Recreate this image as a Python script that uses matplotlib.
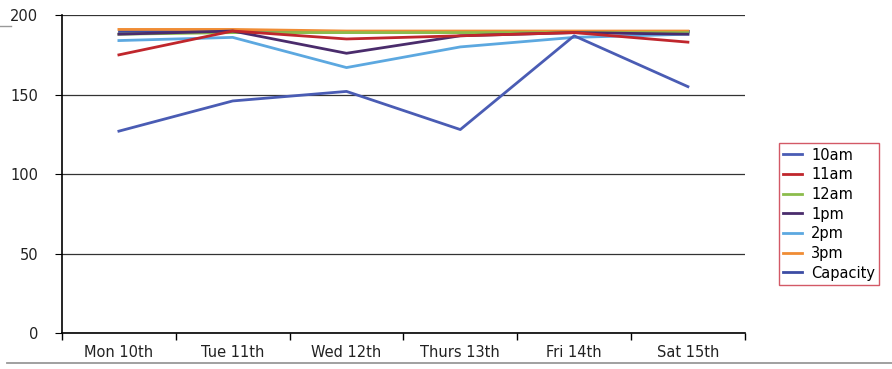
import matplotlib.pyplot as plt
import numpy as np

days = ["Mon 10th", "Tue 11th", "Wed 12th", "Thurs 13th", "Fri 14th", "Sat 15th"]
am10 = [127, 146, 152, 128, 187, 155]
am11 = [175, 190, 185, 187, 189, 183]
am12 = [188, 189, 189, 189, 189, 189]
pm1 = [188, 190, 176, 187, 189, 188]
pm2 = [184, 186, 167, 180, 186, 188]
pm3 = [191, 191, 190, 190, 190, 190]
capacity = [190, 190, 190, 190, 190, 190]

names = ["10am", "11am", "12am", "1pm", "2pm", "3pm", "Capacity"]
colors = ["#4a5cb4", "#c0262c", "#8cbc4c", "#4a2c6c", "#5ca8e0", "#f08c34", "#3c4ca4"]

fig = plt.figure(figsize=(8.92, 3.69), dpi=100)
ax = fig.add_axes([0.0695, 0.0976, 0.7655, 0.8614])

x = np.arange(len(days))
# draw in order so that the flat top lines sit under the others
order = [6, 5, 2, 4, 3, 1, 0]
series = [am10, am11, am12, pm1, pm2, pm3, capacity]
lines = {}
for i in order:
    ln, = ax.plot(x, series[i], color=colors[i], lw=2.0, label=names[i])
    lines[i] = ln

ax.set_xlim(-0.5, 5.5)
ax.set_ylim(0, 200)
ax.set_yticks([0, 50, 100, 150, 200])
ax.set_xticks(x)
ax.set_xticklabels(days)
ax.set_xticks(np.arange(-0.5, 6, 1), minor=True)
ax.tick_params(axis="x", which="major", length=0, labelsize=10.5, pad=9, labelcolor="#222222")
ax.tick_params(axis="x", which="minor", length=5, direction="out", width=1)
ax.tick_params(axis="y", length=5, direction="out", labelsize=10.5, pad=12, labelcolor="#222222")
ax.grid(axis="y", color="#333333", lw=0.9)
ax.set_axisbelow(True)
for s in ["top", "right"]:
    ax.spines[s].set_visible(False)
ax.spines["left"].set_linewidth(1.2)
ax.spines["bottom"].set_linewidth(1.2)

leg = ax.legend([lines[i] for i in range(7)], names, loc="upper left",
                bbox_to_anchor=(1.05, 0.597), frameon=True, fancybox=False,
                fontsize=10.5, handlelength=1.3, handletextpad=0.6,
                labelspacing=0.32, borderpad=0.3, borderaxespad=0)
leg.get_frame().set_edgecolor("#c83040")
leg.get_frame().set_linewidth(1.0)

# thin gray rule under the chart and the stub beside the top label
fig.add_artist(plt.Line2D([0.008, 1.0], [0.016, 0.016], color="#999999", lw=1.3))
fig.add_artist(plt.Line2D([0.0, 0.012], [0.93, 0.93], color="#999999", lw=1.0))

fig.savefig("out.png", dpi=100)
